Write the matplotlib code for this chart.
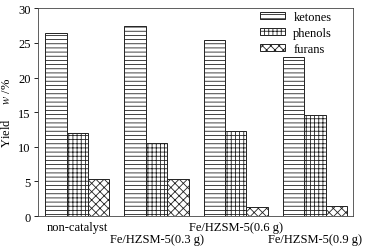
import numpy as np
import matplotlib
matplotlib.use('Agg')
import matplotlib.pyplot as plt

plt.rcParams['font.family'] = 'Liberation Serif'
plt.rcParams['mathtext.fontset'] = 'stix'
plt.rcParams['hatch.linewidth'] = 0.6

# data
categories = ['non-catalyst', 'Fe/HZSM-5(0.3 g)', 'Fe/HZSM-5(0.6 g)', 'Fe/HZSM-5(0.9 g)']
ketones = [26.5, 27.4, 25.5, 23.0]
phenols = [12.0, 10.5, 12.3, 14.6]
furans = [5.4, 5.3, 1.3, 1.5]

fig = plt.figure(figsize=(3.7, 2.53), dpi=100)
ax = fig.add_axes([0.102, 0.142, 0.852, 0.821])

x = np.arange(len(categories))
w = 0.27
ax.bar(x - w, ketones, w, facecolor='white', edgecolor='#222222', hatch='----', linewidth=0.7, label='ketones')
ax.bar(x, phenols, w, facecolor='white', edgecolor='#222222', hatch='++++', linewidth=0.7, label='phenols')
ax.bar(x + w, furans, w, facecolor='white', edgecolor='#222222', hatch='xxxx', linewidth=0.7, label='furans')

ax.set_xlim(-0.5, 3.48)
ax.set_ylim(0, 30)
ax.set_yticks([0, 5, 10, 15, 20, 25, 30])
ax.set_xticks(x)
ax.set_xticklabels(categories)
ax.tick_params(axis='x', length=0, pad=3.5, labelsize=9)
ax.tick_params(axis='y', length=3, width=0.6, labelsize=9, pad=2)
# stagger every second label onto a lower row
for i, t in enumerate(ax.xaxis.get_major_ticks()):
    if i % 2 == 1:
        t.set_pad(12.5)
for s in ax.spines.values():
    s.set_linewidth(0.6)
    s.set_color('#444444')

ax.set_ylabel('Yield     $\\mathit{w}$ /%', fontsize=9, labelpad=4)

ax.legend(loc='upper right', frameon=False, fontsize=9, handlelength=2.0, handleheight=0.5,
          labelspacing=0.3, handletextpad=0.7, borderaxespad=0.0, bbox_to_anchor=(0.95, 1.01))

fig.savefig('out.png', dpi=100)
